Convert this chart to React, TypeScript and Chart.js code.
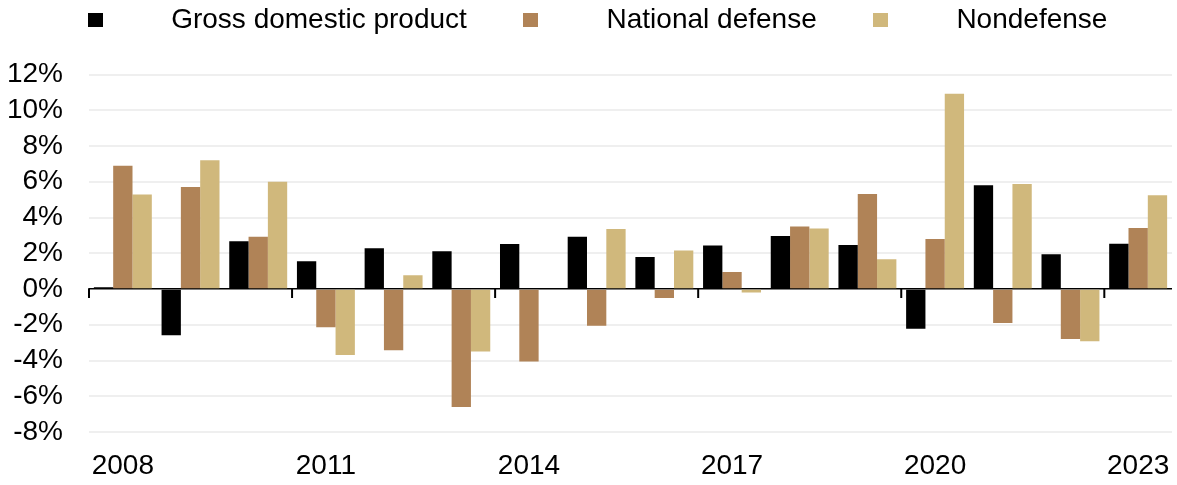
import React, { useEffect, useRef } from 'react';
import { Chart, registerables } from 'chart.js';

Chart.register(...registerables);

const years = ['2008', '2009', '2010', '2011', '2012', '2013', '2014', '2015', '2016', '2017', '2018', '2019', '2020', '2021', '2022', '2023'];
const tickYears = ['2008', '2011', '2014', '2017', '2020', '2023'];
const gdp = [0.1, -2.59, 2.67, 1.55, 2.28, 2.11, 2.52, 2.93, 1.79, 2.44, 2.96, 2.46, -2.22, 5.8, 1.94, 2.53];
const nationalDefense = [6.9, 5.71, 2.93, -2.14, -3.43, -6.6, -4.05, -2.05, -0.5, 0.95, 3.5, 5.31, 2.8, -1.9, -2.8, 3.41];
const nondefense = [5.28, 7.2, 6.0, -3.69, 0.77, -3.5, 0, 3.36, 2.16, -0.2, 3.39, 1.66, 10.93, 5.87, -2.92, 5.24];
const seriesNames = ['Gross domestic product', 'National defense', 'Nondefense'];
const seriesColors = ['#000000', '#B08357', '#D0B87C'];
const yMin = -8;
const yMax = 12;
const yStep = 2;

const FONT = '"Liberation Sans", Arial, sans-serif';

const boundaryTicks = {
  id: 'boundaryTicks',
  afterDatasetsDraw(chart: any) {
    const xs = chart.scales.x;
    const ys = chart.scales.y;
    const ctx = chart.ctx;
    const y0 = ys.getPixelForValue(0);
    const half = (xs.getPixelForValue(1) - xs.getPixelForValue(0)) / 2;
    ctx.save();
    ctx.strokeStyle = '#000';
    ctx.lineWidth = 2;
    years.forEach((yr, i) => {
      if (!tickYears.includes(yr)) return;
      const px = xs.getPixelForValue(i) - half;
      ctx.beginPath();
      ctx.moveTo(px, y0 - 0.75);
      ctx.lineTo(px, y0 + 9);
      ctx.stroke();
    });
    ctx.restore();
  },
};

export default function App() {
  const ref = useRef<HTMLCanvasElement | null>(null);

  useEffect(() => {
    if (!ref.current) return;
    const series = [gdp, nationalDefense, nondefense];
    const chart = new Chart(ref.current, {
      type: 'bar',
      data: {
        labels: years,
        datasets: series.map((d, i) => ({
          label: seriesNames[i],
          data: d,
          backgroundColor: seriesColors[i],
          borderWidth: 0,
          categoryPercentage: 0.856,
          barPercentage: 1,
        })),
      },
      options: {
        responsive: false,
        animation: false,
        layout: { padding: { top: 74.5, left: 8, right: 5, bottom: 0 } },
        plugins: {
          legend: { display: false },
          tooltip: { enabled: false },
        },
        scales: {
          x: {
            grid: { display: false, drawTicks: false },
            border: { display: false },
            ticks: {
              autoSkip: false,
              maxRotation: 0,
              padding: 17,
              color: '#000',
              font: { family: FONT, size: 28 },
              callback: (_v: any, i: number) => (tickYears.includes(years[i]) ? years[i] : ''),
            },
            afterFit: (scale: any) => {
              scale.height = 53;
              scale.paddingLeft = 0;
              scale.paddingRight = 0;
            },
          },
          y: {
            min: yMin,
            max: yMax,
            grid: {
              drawTicks: false,
              color: (c: any) => (c.tick && c.tick.value === 0 ? '#000000' : '#efefef'),
              lineWidth: (c: any) => (c.tick && c.tick.value === 0 ? 1.5 : 2),
            },
            border: { display: false },
            ticks: {
              stepSize: yStep,
              autoSkip: false,
              padding: 26,
              color: '#000',
              font: { family: FONT, size: 28 },
              callback: (v: any) => `${v}%`,
            },
            afterFit: (scale: any) => {
              scale.width = 81;
              scale.paddingTop = 0;
              scale.paddingBottom = 0;
            },
          },
        },
      },
      plugins: [boundaryTicks],
    });
    return () => chart.destroy();
  }, []);

  return (
    <div style={{ position: 'fixed', left: 0, top: 0, width: 1177, height: 485, background: '#fff' }}>
      <canvas ref={ref} width={1177} height={485} style={{ display: 'block' }} />
      <div
        style={{
          position: 'absolute',
          left: 88,
          top: 3,
          display: 'flex',
          fontFamily: FONT,
          fontSize: 28,
          lineHeight: '32px',
          whiteSpace: 'nowrap',
          color: '#000',
        }}
      >
        {seriesNames.map((n, i) => (
          <div key={n} style={{ display: 'flex', alignItems: 'flex-start', marginLeft: i ? 56.5 : 0 }}>
            <span
              style={{
                display: 'inline-block',
                width: 14.5,
                height: 14,
                marginTop: 10,
                marginRight: 68.7,
                background: seriesColors[i],
              }}
            />
            <span>{n}</span>
          </div>
        ))}
      </div>
    </div>
  );
}
